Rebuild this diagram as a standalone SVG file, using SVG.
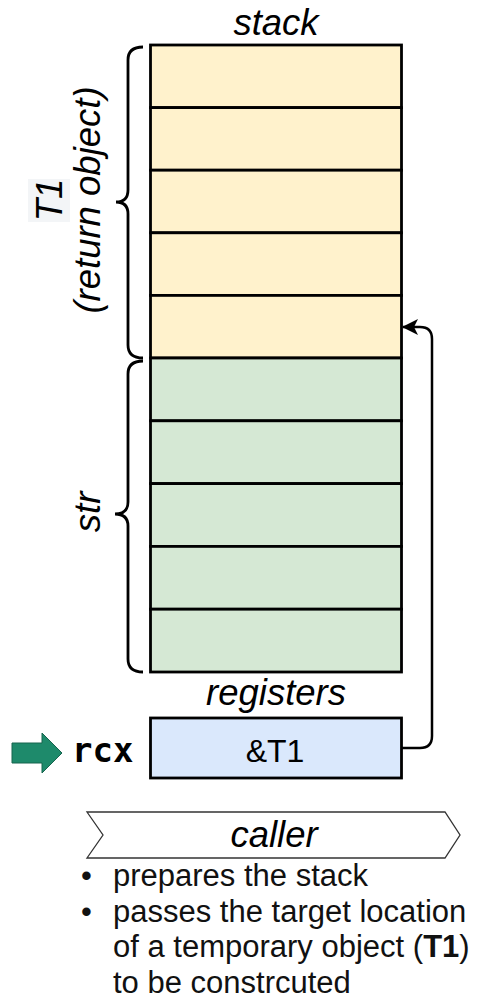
<svg xmlns="http://www.w3.org/2000/svg" width="477" height="1000" viewBox="0 0 477 1000">
<defs>
<style>
.lbl{font-family:"Liberation Sans",Arial,sans-serif;fill:#000}
.it{font-style:italic;font-size:36.5px}
.cellY{fill:#fff2cc;stroke:#000;stroke-width:2.8}
.cellG{fill:#d5e8d4;stroke:#000;stroke-width:2.8}
.brace{fill:none;stroke:#000;stroke-width:2.8}
.bul{font-family:"Liberation Sans",Arial,sans-serif;font-size:31px;fill:#111}
</style>
<marker id="ah" viewBox="0 0 16 16" markerWidth="16" markerHeight="16" refX="15" refY="8" orient="auto" markerUnits="userSpaceOnUse">
<path d="M0,0 L16,8 L0,16 L4,8 Z" fill="#000"/>
</marker>
</defs>
<rect width="477" height="1000" fill="#fff"/>

<g id="stack-title"><text class="lbl it" x="276" y="35" text-anchor="middle">stack</text></g>

<g id="stack-t1">
<rect class="cellY" x="150.5" y="45" width="251" height="62.6"/>
<rect class="cellY" x="150.5" y="107.6" width="251" height="62.6"/>
<rect class="cellY" x="150.5" y="170.2" width="251" height="62.6"/>
<rect class="cellY" x="150.5" y="232.8" width="251" height="62.6"/>
<rect class="cellY" x="150.5" y="295.4" width="251" height="62.6"/>
</g>
<g id="stack-str">
<rect class="cellG" x="150.5" y="358" width="251" height="62.8"/>
<rect class="cellG" x="150.5" y="420.8" width="251" height="62.8"/>
<rect class="cellG" x="150.5" y="483.6" width="251" height="62.8"/>
<rect class="cellG" x="150.5" y="546.4" width="251" height="62.8"/>
<rect class="cellG" x="150.5" y="609.2" width="251" height="62.8"/>
</g>

<g id="brace-t1">
<path class="brace" d="M143,47 Q128,47 128,60 L128,190 Q128,202 116,202 Q128,202 128,214 L128,345 Q128,358 143,358"/>
<g transform="translate(0,200) rotate(-90)">
<rect x="-22" y="28" width="43" height="42" fill="#f3f5f7"/>
<text class="lbl it" x="0" y="62" text-anchor="middle">T1</text>
<text class="lbl it" x="0" y="100" text-anchor="middle">(return object)</text>
</g>
</g>

<g id="brace-str">
<path class="brace" d="M143,361 Q128,361 128,374 L128,502 Q128,514 115,514 Q128,514 128,526 L128,659 Q128,672 143,672"/>
<text class="lbl it" transform="translate(100,512) rotate(-90)" x="0" y="0" text-anchor="middle">str</text>
</g>

<g id="registers-title"><text class="lbl it" x="276" y="705" text-anchor="middle">registers</text></g>

<g id="rcx">
<rect x="150.5" y="718" width="251" height="60" fill="#dae8fc" stroke="#000" stroke-width="2.8"/>
<text class="lbl" x="275" y="762" font-size="32" text-anchor="middle">&amp;T1</text>
</g>

<g id="rcx-label">
<path d="M12,743 L42,743 L42,733 L62,753 L42,773 L42,763 L12,763 Z" fill="#1e8a6b" stroke="#17644e" stroke-width="1"/>
<text x="72" y="762" font-family="'DejaVu Sans Mono','Liberation Mono',monospace" font-weight="bold" font-size="34" fill="#000">rcx</text>
</g>

<g id="connectors">
<path d="M402,748 L420,748 Q432,748 432,736 L432,339 Q432,327 420,327 L403,327" fill="none" stroke="#000" stroke-width="2.5" marker-end="url(#ah)"/>
</g>

<g id="caller">
<polygon points="87,812 445,812 460,835 445,858 87,858 103,835" fill="#fff" stroke="#333" stroke-width="1.3"/>
<text class="lbl it" x="274" y="847" text-anchor="middle">caller</text>
</g>

<g id="caller-notes">
<text class="bul" x="81" y="886">•</text>
<text class="bul" x="113" y="886">prepares the stack</text>
<text class="bul" x="81" y="921.5">•</text>
<text class="bul" x="113" y="921.5">passes the target location</text>
<text class="bul" x="113" y="957">of a temporary object (<tspan font-weight="bold">T1</tspan>)</text>
<text class="bul" x="113" y="992.5">to be constrcuted</text>
</g>
</svg>
